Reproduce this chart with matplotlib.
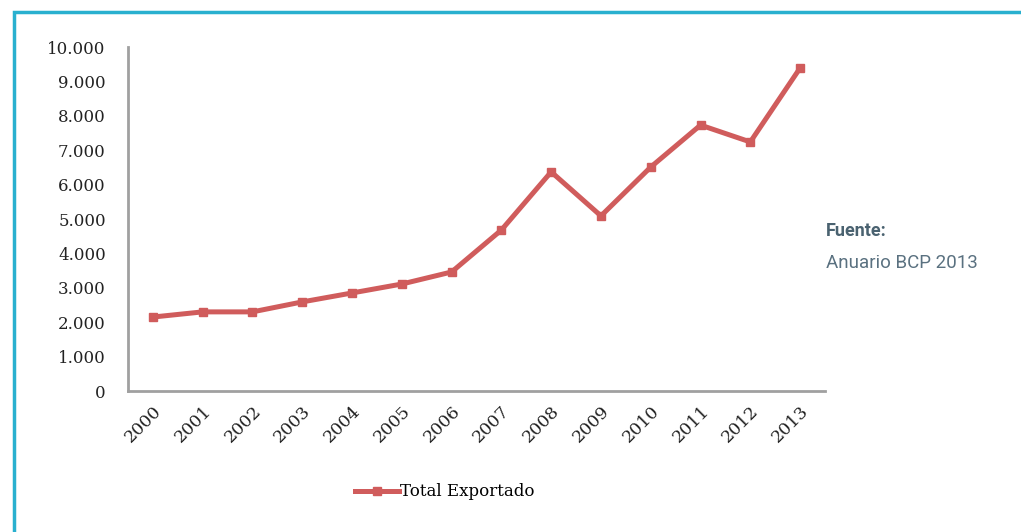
import numpy as np
import matplotlib.pyplot as plt
from matplotlib.patches import Rectangle

years = ['2000', '2001', '2002', '2003', '2004', '2005', '2006',
         '2007', '2008', '2009', '2010', '2011', '2012', '2013']
total_exportado = [2150, 2300, 2300, 2590, 2850, 3110, 3460,
                   4680, 6370, 5090, 6510, 7730, 7240, 9390]
y_ticks = [0, 1000, 2000, 3000, 4000, 5000, 6000, 7000, 8000, 9000, 10000]

W, H = 1021, 532
fig = plt.figure(figsize=(W / 100, H / 100), dpi=100)

# teal frame (only top and left edges visible)
fig.patches.append(Rectangle((14 / W, -0.1), 1.2, 1 - 12 / H + 0.1, transform=fig.transFigure,
                             fill=False, edgecolor='#29b0cf', linewidth=2.5))

ax = fig.add_axes([128 / W, 1 - 391 / H, (825 - 128) / W, (391 - 47) / H])
x = np.arange(len(years))
line, = ax.plot(x, total_exportado, color='#d05c5c', linewidth=3.6,
                marker='s', markersize=6, label='Total Exportado')

ax.set_xlim(-0.5, len(years) - 0.5)
ax.set_ylim(0, 10000)
ax.set_yticks(y_ticks)
ax.set_yticklabels(['{:,}'.format(v).replace(',', '.') for v in y_ticks])
ax.set_xticks(x)
ax.set_xticklabels(years, rotation=45, ha='right', rotation_mode='anchor')

serif = ['DejaVu Serif']
for lab in ax.get_yticklabels():
    lab.set_family(serif)
    lab.set_fontsize(12)
    lab.set_color('#222222')
for lab in ax.get_xticklabels():
    lab.set_family(serif)
    lab.set_fontsize(12.5)
    lab.set_color('#222222')

ax.tick_params(length=0)
ax.tick_params(axis='y', pad=16)
ax.tick_params(axis='x', pad=8)
for s in ['top', 'right']:
    ax.spines[s].set_visible(False)
for s in ['left', 'bottom']:
    ax.spines[s].set_color('#a0a0a0')
    ax.spines[s].set_linewidth(2)

fig.legend(handles=[line], loc='center', bbox_to_anchor=(445 / W, 1 - 492 / H),
           frameon=False, prop={'family': serif, 'size': 12}, handlelength=2.6,
           handletextpad=0.1)

fig.text(826 / W, 1 - 231 / H, 'Fuente:', fontsize=13, fontweight='bold',
         color='#4a6270', family=['Roboto', 'DejaVu Sans'], va='center')
fig.text(826 / W, 1 - 263 / H, 'Anuario BCP 2013', fontsize=13.5,
         color='#5a7180', family=['Roboto', 'DejaVu Sans'], va='center')

fig.savefig('out.png', dpi=100)
